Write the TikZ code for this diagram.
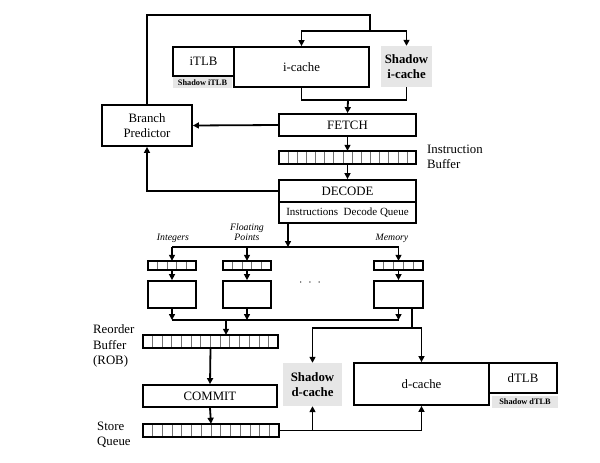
\documentclass[tikz,border=0pt]{standalone}
\usepackage{fontspec}
\setmainfont{Liberation Serif}
\usetikzlibrary{arrows.meta,calc}
\definecolor{shadegray}{HTML}{E6E6E6}
\newcommand{\mainfs}{\fontsize{12.8}{15.5}\selectfont}
\newcommand{\smallfs}{\fontsize{11}{13}\selectfont}
\newcommand{\tinybf}{\fontsize{8.3}{9}\selectfont\bfseries}
\newcommand{\labit}{\fontsize{9.8}{10.5}\selectfont\itshape}
\newcommand{\cells}[2]{%
  \foreach \i in {1,...,\numexpr#2-1\relax}{%
    \draw[black!55, line width=0.7pt] ($(#1.north west)!\i/#2!(#1.north east)$) -- ($(#1.south west)!\i/#2!(#1.south east)$);}%
  \draw[line width=1.8pt] (#1.north west) rectangle (#1.south east);}
\tikzset{
  box/.style={draw, line width=1.8pt, inner sep=0pt, align=center, font=\mainfs},
  shadebox/.style={fill=shadegray, inner sep=0pt, align=center, font=\mainfs\bfseries},
  queue/.style={inner sep=0pt},
  arr/.style={line width=1.8pt, -{Triangle[length=6pt,width=6pt]}},
  ln/.style={line width=1.8pt},
  lab/.style={inner sep=0pt, align=left, font=\mainfs},
  itlab/.style={inner sep=0pt, align=center, font=\labit},
}
\begin{document}
\begin{tikzpicture}[x=1pt, y=-1pt]
\useasboundingbox (0,0) rectangle (600,463);
% top section
\node[box, minimum width=61pt, minimum height=29pt] (itlb) at (203.5,61.5) {iTLB};
\node[shadebox, font=\tinybf, minimum width=59pt, minimum height=11pt] (sitlb) at (202.5,82.5) {Shadow iTLB};
\node[box, minimum width=135pt, minimum height=40pt] (icache) at (301.5,67) {i-cache};
\node[shadebox, minimum width=51pt, minimum height=41pt] (sicache) at (406.5,66.5) {Shadow\\i-cache};
\node[box, minimum width=137pt, minimum height=22pt] (fetch) at (347.5,125) {FETCH};
\node[box, minimum width=90pt, minimum height=41pt] (bp) at (147,125.5) {Branch\\Predictor};
\node[queue, minimum width=137pt, minimum height=13pt] (ibuf) at (347.5,157.5) {};
\cells{ibuf}{15}
\node[lab, anchor=west] (ibuflab) at (427,157) {Instruction\\Buffer};
\node[box, minimum width=137pt, minimum height=22pt] (decode) at (347.5,191) {DECODE};
\node[box, font=\smallfs, minimum width=137pt, minimum height=21pt] (idq) at (347.5,212.5) {Instructions\ \ Decode Queue};
% connectors top
\coordinate (toploop) at (370,15);
\coordinate (split) at (370,31);
\draw[ln] (bp.north) |- (toploop) -- (split);
\draw[arr] (split) -| (icache.north);
\draw[arr] (split) -| (sicache.north);
\coordinate (merge) at (348,100);
\draw[ln] (icache.south) |- (merge);
\draw[ln] (sicache.south) |- (merge);
\draw[arr] (merge) -- (fetch.north);
\draw[arr] (fetch.west) -- (bp.east);
\draw[arr] (fetch.south) -- (ibuf.north);
\draw[arr] (ibuf.south) -- (decode.north);
\draw[arr] (decode.west) -| (bp.south);
% execution lanes
\node[itlab] (lint) at (173,238) {Integers};
\node[itlab] (lfp) at (247,232) {Floating\\Points};
\node[itlab] (lmem) at (392,238) {Memory};
\node[queue, minimum width=48pt, minimum height=9pt] (q1) at (172,265.5) {};
\node[queue, minimum width=48pt, minimum height=9pt] (q2) at (247,265.5) {};
\node[queue, minimum width=49pt, minimum height=9pt] (q3) at (398.5,265.5) {};
\cells{q1}{5}\cells{q2}{5}\cells{q3}{5}
\node[box, minimum width=48pt, minimum height=27pt] (e1) at (172,294.5) {};
\node[box, minimum width=48pt, minimum height=27pt] (e2) at (247,294.5) {};
\node[box, minimum width=49pt, minimum height=27pt] (e3) at (398.5,294.5) {};
\node[inner sep=0pt, font=\mainfs] (dots) at (310,283) {$\cdot\;\cdot\;\cdot$};
\coordinate (busin) at (288,247);
\draw[arr] (idq.south -| busin) -- (busin);
\draw[ln] (q1.north |- busin) -- (q3.north |- busin);
\foreach \q in {q1,q2,q3}{\draw[arr] (\q.north |- busin) -- (\q.north);}
\foreach \q/\e in {q1/e1,q2/e2,q3/e3}{\draw[arr] (\q.south) -- (\e.north);}
\coordinate (bus2) at (226,320);
\foreach \e in {e1,e2,e3}{\draw[arr] (\e.south) -- (\e.south |- bus2);}
\draw[ln] (e1.south |- bus2) -- (e3.south |- bus2);
% ROB, commit, store queue
\node[queue, minimum width=135pt, minimum height=13pt] (rob) at (210.5,341.5) {};
\cells{rob}{14}
\node[lab, anchor=west] (roblab) at (93,346) {Reorder\\Buffer\\(ROB)};
\draw[arr] (bus2) -- (rob.north -| bus2);
\node[box, minimum width=134pt, minimum height=22pt] (commit) at (210,396) {COMMIT};
\node[queue, minimum width=136pt, minimum height=13pt] (sq) at (211,430.5) {};
\cells{sq}{14}
\node[lab, anchor=west] (sqlab) at (97,435) {Store\\Queue};
\draw[arr] (rob.south) -- (commit.north);
\draw[arr] (commit.south) -- (sq.north);
% data caches
\node[shadebox, minimum width=59pt, minimum height=43pt] (sdcache) at (312.5,384.5) {Shadow\\d-cache};
\node[box, minimum width=135pt, minimum height=42pt] (dcache) at (421.5,384) {d-cache};
\node[box, minimum width=68pt, minimum height=30pt] (dtlb) at (523,378) {dTLB};
\node[shadebox, font=\tinybf, minimum width=66pt, minimum height=12pt] (sdtlb) at (525,402) {Shadow dTLB};
\coordinate (dsplit) at (412,328);
\draw[ln] (e3.south -| dsplit) -- (dsplit);
\draw[arr] (dsplit) -| (sdcache.north);
\draw[arr] (dsplit) -| (dcache.north);
\coordinate (sqend) at (dcache.south |- sq.east);
\draw[ln] (sq.east) -- (sqend);
\draw[arr] (sqend) -- (dcache.south);
\draw[arr] (sdcache.south |- sq.east) -- (sdcache.south);
\end{tikzpicture}
\end{document}
